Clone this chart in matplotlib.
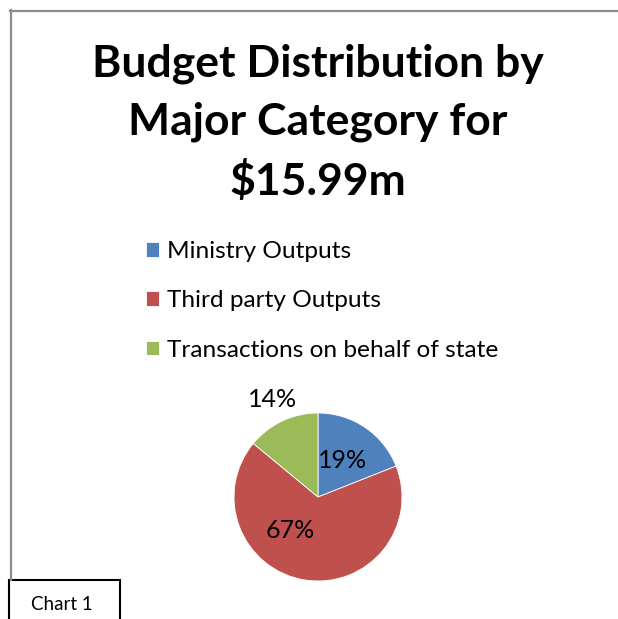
import numpy as np
import matplotlib.pyplot as plt
from matplotlib.patches import Rectangle
from matplotlib.lines import Line2D

categories = ['Ministry Outputs', 'Third party Outputs', 'Transactions on behalf of state']
shares = [19, 67, 14]
title = 'Budget Distribution by\nMajor Category for\n$15.99m'
colors = ['#4F81BD', '#C0504D', '#9BBB59']

W, H = 618, 619
FONT = 'Lato'


def fx(px):
    return px / W


def fy(py):
    return 1 - py / H


def main():
    plt.rcParams['font.family'] = [FONT, 'DejaVu Sans']
    fig = plt.figure(figsize=(W / 100, H / 100), dpi=100)

    # frame lines of the chart area
    fig.add_artist(Line2D([fx(11), fx(11)], [fy(10), fy(580)], color='#8c8c8c', lw=1.6))
    fig.add_artist(Line2D([fx(10), fx(618)], [fy(10.5), fy(10.5)], color='#8c8c8c', lw=1.6))

    fig.text(fx(318), fy(123), title, ha='center', va='center', fontsize=32,
             fontweight='bold', linespacing=1.52)

    # pie
    cx, cy, r = 318, 497, 84
    ax = fig.add_axes([fx(cx - r), fy(cy + r), 2 * r / W, 2 * r / H])
    wedges, _ = ax.pie(shares, colors=colors, startangle=90, counterclock=False,
                       radius=1, wedgeprops=dict(edgecolor='white', linewidth=0.6))
    ax.set_xlim(-1, 1)
    ax.set_ylim(-1, 1)
    ax.set_aspect('auto')
    ax.axis('off')

    label_pos = [(None, 0.52), (230, 0.52), (None, 1.28)]
    for w, s, (ang, dist) in zip(wedges, shares, label_pos):
        if ang is None:
            ang = (w.theta1 + w.theta2) / 2
        a = np.deg2rad(ang)
        ax.text(dist * np.cos(a), dist * np.sin(a), f'{s}%', ha='center', va='center',
                fontsize=18, clip_on=False)

    fig.legend(wedges, categories, loc='upper left', bbox_to_anchor=(fx(146), fy(241)),
               frameon=False, fontsize=17.6, handlelength=0.55, handleheight=0.55,
               handletextpad=0.3, labelspacing=1.16, borderaxespad=0, borderpad=0)

    # caption box
    fig.add_artist(Rectangle((fx(9), fy(630)), fx(111), fy(580) - fy(630), fill=False,
                             edgecolor='black', lw=1.5))
    fig.text(fx(62), fy(604), 'Chart 1', ha='center', va='center', fontsize=13.5)

    fig.savefig('out.png', dpi=100)


if __name__ == '__main__':
    main()
